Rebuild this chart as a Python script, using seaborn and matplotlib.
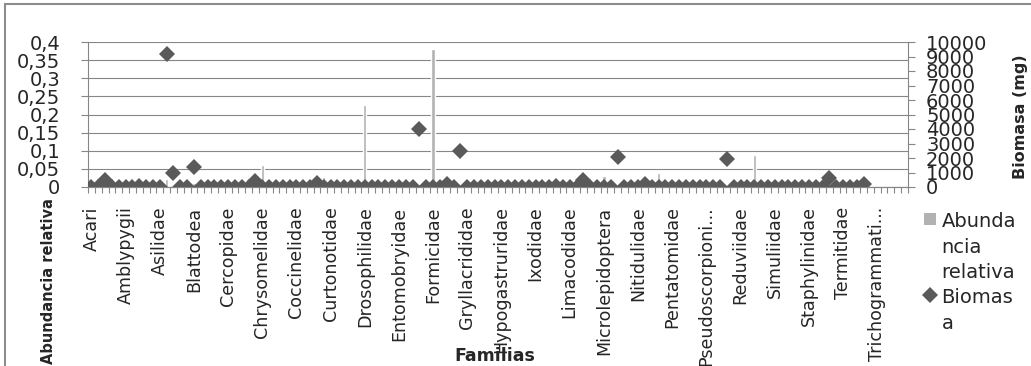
import matplotlib
matplotlib.use("Agg")
import matplotlib.pyplot as plt
from matplotlib.patches import Rectangle
from matplotlib.lines import Line2D
from matplotlib.ticker import FuncFormatter, MultipleLocator, FixedLocator
import numpy as np
import pandas as pd
import seaborn as sns

# Families in alphabetical order (only every fifth name is printed on the axis)
familias = [
    "Acari", "Achilidae", "Acrididae", "Agromyzidae", "Aleyrodidae",
    "Amblypygii", "Anobiidae", "Anthicidae", "Aphididae", "Araneae",
    "Asilidae", "Aulacigastridae", "Baetidae", "Bethylidae", "Bibionidae",
    "Blattodea", "Braconidae", "Bruchidae", "Calliphoridae", "Carabidae",
    "Cercopidae", "Chalcididae", "Chironomidae", "Chloropidae", "Chrysididae",
    "Chrysomelidae", "Cicadellidae", "Cixiidae", "Clubionidae", "Coccidae",
    "Coccinelidae", "Coreidae", "Corixidae", "Crambidae", "Culicidae",
    "Curtonotidae", "Cydnidae", "Delphacidae", "Dermaptera", "Diapriidae",
    "Drosophilidae", "Dryinidae", "Dytiscidae", "Elateridae", "Empididae",
    "Entomobryidae", "Ephydridae", "Erotylidae", "Eucoilidae", "Eulophidae",
    "Formicidae", "Fulgoridae", "Gelechiidae", "Geometridae", "Gerridae",
    "Gryllacrididae", "Gryllidae", "Hemerobiidae", "Histeridae", "Hydrophilidae",
    "Hypogastruridae", "Ichneumonidae", "Isopoda", "Isotomidae", "Issidae",
    "Ixodidae", "Julidae", "Kalotermitidae", "Lampyridae", "Lepismatidae",
    "Limacodidae", "Lycosidae", "Lygaeidae", "Meloidae", "Membracidae",
    "Microlepidoptera", "Miridae", "Muscidae", "Mycetophilidae", "Mymaridae",
    "Nitidulidae", "Noctuidae", "Nymphalidae", "Opiliones", "Passalidae",
    "Pentatomidae", "Phalacridae", "Phoridae", "Platygastridae", "Pselaphidae",
    "Pseudoscorpioni...", "Psocoptera", "Psychodidae", "Ptiliidae", "Pyralidae",
    "Reduviidae", "Rhinotermitidae", "Sarcophagidae", "Scarabaeidae", "Sciaridae",
    "Simuliidae", "Sminthuridae", "Sphaeroceridae", "Sphecidae", "Sphingidae",
    "Staphylinidae", "Stratiomyidae", "Syrphidae", "Tabanidae", "Tenebrionidae",
    "Termitidae", "Tettigoniidae", "Thripidae", "Tipulidae", "Tortricidae",
    "Trichogrammati...", "Trichoptera", "Trogidae", "Vespidae", "Zopheridae",
]

# Relative abundance per family (left axis)
abundancia_relativa = [
    0, 0, 0, 0, 0, 0, 0, 0, 0, 0,
    0, 0.022, 0, 0, 0, 0.012, 0, 0, 0, 0,
    0, 0, 0, 0, 0, 0.060, 0, 0, 0, 0,
    0, 0, 0, 0, 0.028, 0, 0, 0, 0, 0,
    0.225, 0, 0, 0, 0, 0, 0, 0, 0, 0,
    0.380, 0, 0, 0, 0, 0, 0, 0, 0, 0,
    0, 0, 0, 0, 0, 0, 0, 0, 0, 0,
    0, 0, 0, 0, 0, 0.031, 0, 0, 0, 0,
    0, 0, 0, 0.038, 0, 0, 0, 0, 0, 0,
    0, 0, 0, 0, 0, 0, 0, 0.089, 0, 0,
    0, 0, 0, 0, 0, 0, 0, 0, 0, 0,
    0, 0, 0, 0, 0, 0, 0, 0, 0, 0.003,
]

# Biomass in mg per family (right axis); NaN where no weight was recorded
nan = np.nan
biomasa_mg = [
    0, 0, 500, 0, 0, 0, 0, 100, 0, 0,
    0, 9200, 1000, 0, 0, 1350, 0, 0, 0, 0,
    0, 0, 0, 0, 400, 0, 0, 0, 0, 0,
    0, 0, 0, 300, 0, 0, 0, 0, 0, 0,
    0, 0, 0, 0, 0, 0, 0, 0, 4000, 0,
    0, 0, 200, 0, 2500, 0, 0, 0, 0, 0,
    0, 0, 0, 0, 0, 0, 0, 0, 100, 0,
    0, 0, 450, 0, 0, 0, 0, 2100, 0, 0,
    0, 200, 0, 0, 0, 0, 0, 0, 0, 0,
    0, 0, 0, 1900, 0, 0, 0, 0, 0, 0,
    0, 0, 0, 0, 0, 0, 0, 0, 600, 0,
    0, 0, 0, 200, nan, nan, nan, nan, nan, nan,
]

etiqueta_abundancia = "Abunda\nncia\nrelativa"
etiqueta_biomasa = "Biomas\na"

BAR_GRAY = "#b2b2b2"
DIAMOND_GRAY = "#5a5a5a"
LINE_GRAY = "#868686"
DIAMOND_SIZE = 8.3

sns.set_style("white")
plt.rcParams["font.family"] = ["DejaVu Sans"]

df = pd.DataFrame({
    "familia": familias,
    "abundancia": abundancia_relativa,
    "biomasa": biomasa_mg,
})
n = len(familias)

W, H = 1031, 366
fig = plt.figure(figsize=(W / 100, H / 100), dpi=100)
ax = fig.add_axes([88 / W, 1 - 187 / H, 820 / W, 145 / H])

sns.barplot(data=df, x="familia", y="abundancia", order=familias,
            color=BAR_GRAY, saturation=1, width=0.5, errorbar=None,
            ax=ax, zorder=2)

ax2 = ax.twinx()
sns.pointplot(data=df, x="familia", y="biomasa", order=familias,
              color=DIAMOND_GRAY, marker="D", linestyle="none",
              markersize=DIAMOND_SIZE, markeredgewidth=0, errorbar=None,
              ax=ax2)

# Category axis: labels every fifth family, tick marks between all categories
ax.set_xlim(-0.5, n - 0.5)
ax.set_xticks(range(0, n, 5), familias[::5], rotation=90)
ax.xaxis.set_minor_locator(FixedLocator(np.arange(-0.5, n, 1.0)))
ax.tick_params(axis="x", which="major", length=0, pad=14, labelsize=12.6)
ax.tick_params(axis="x", which="minor", length=4, width=0.8,
               direction="out", color=LINE_GRAY, bottom=True)

# Left axis: relative abundance with decimal comma
ax.set_ylim(0, 0.4)
ax.yaxis.set_major_locator(MultipleLocator(0.05))
ax.yaxis.set_major_formatter(
    FuncFormatter(lambda v, p: ("%g" % round(v, 2)).replace(".", ",")))
ax.tick_params(axis="y", length=5, width=0.8, color=LINE_GRAY,
               direction="out", pad=15, labelsize=14, left=True)
ax.grid(axis="y", color=LINE_GRAY, linewidth=0.8)
ax.grid(axis="x", visible=False)
ax.set_axisbelow(True)

# Right axis: biomass
ax2.set_ylim(0, 10000)
ax2.yaxis.set_major_locator(MultipleLocator(1000))
ax2.yaxis.set_major_formatter(FuncFormatter(lambda v, p: "%d" % v))
ax2.tick_params(axis="y", length=5, width=0.8, color=LINE_GRAY,
                direction="out", pad=8, labelsize=14, right=True)
ax2.grid(False)

for a in (ax, ax2):
    for sp in a.spines.values():
        sp.set_color(LINE_GRAY)
        sp.set_linewidth(0.8)
    a.spines["top"].set_visible(False)
ax.spines["right"].set_visible(False)
ax2.spines["left"].set_visible(False)

# Axis titles
ax.set_xlabel("Familias", fontsize=12.5, fontweight="bold")
ax.xaxis.set_label_coords((495 - 88) / 820, (187 - 347) / 145)
ax.set_ylabel("Abundancia relativa", fontsize=10.5, fontweight="bold")
ax.yaxis.set_label_coords((56 - 88) / 820, (187 - 281) / 145)
ax2.set_ylabel("Biomasa (mg)", fontsize=11.5, fontweight="bold")
ax2.yaxis.set_label_coords((1013 - 88) / 820, (187 - 117) / 145)

# Legend (markers sit beside the first line of each wrapped label)
handles = [
    Line2D([], [], linestyle="none", marker="s", markersize=8,
           markeredgewidth=0, color=BAR_GRAY),
    Line2D([], [], linestyle="none", marker="D", markersize=DIAMOND_SIZE,
           markeredgewidth=0, color=DIAMOND_GRAY),
]
leg = fig.legend(handles, [etiqueta_abundancia, etiqueta_biomasa],
                 loc="upper left", bbox_to_anchor=(923 / W, 1 - 212 / H),
                 frameon=False, fontsize=14, handlelength=0.75,
                 handleheight=0.8, handletextpad=0.2, labelspacing=0.28,
                 borderpad=0, borderaxespad=0)
for t in leg.get_texts():
    t.set_linespacing(1.45)
for col in leg._legend_handle_box.get_children():
    for row in col.get_children():
        row.align = "top"

# Chart-area border
fig.add_artist(Rectangle((5 / W, -0.1), 1.5, 1.1 - 4 / H,
                         transform=fig.transFigure, fill=False,
                         edgecolor="#8c8c8c", linewidth=1.5))

fig.savefig("out.png", dpi=100)
